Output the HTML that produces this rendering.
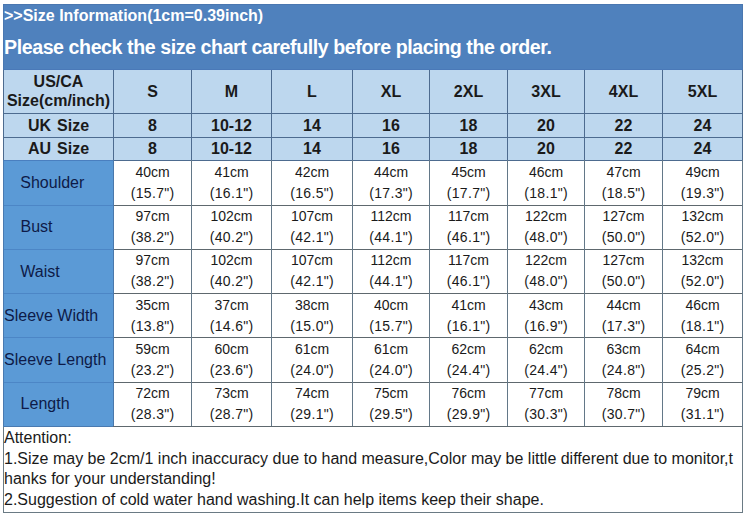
<!DOCTYPE html>
<html><head><meta charset="utf-8"><style>
html,body{margin:0;padding:0;background:#fff;}
body{width:746px;height:517px;overflow:hidden;position:relative;font-family:"Liberation Sans",sans-serif;}
div{position:absolute;}
.t{white-space:pre;}
</style></head><body>
<div style="left:3px;top:4px;width:740px;height:66px;background:#4f81bd;"></div>
<div style="left:4px;top:69px;width:738px;height:1px;background:#4a79b8;"></div>
<div style="left:4px;top:70px;width:738px;height:90px;background:#bdd7ee;"></div>
<div style="left:4px;top:161px;width:109px;height:265px;background:#5b9ad6;"></div>
<div style="left:4px;top:113px;width:738px;height:1px;background:#4d6b8f;"></div>
<div style="left:4px;top:137px;width:738px;height:1px;background:#4d6b8f;"></div>
<div style="left:4px;top:160px;width:109px;height:1px;background:#4a7fbf;"></div>
<div style="left:113px;top:160px;width:629px;height:1px;background:#4d6b8f;"></div>
<div style="left:4px;top:205px;width:109px;height:1px;background:#4c86c6;"></div>
<div style="left:114px;top:205px;width:628px;height:1px;background:#5e686e;"></div>
<div style="left:4px;top:249px;width:109px;height:1px;background:#4c86c6;"></div>
<div style="left:114px;top:249px;width:628px;height:1px;background:#5e686e;"></div>
<div style="left:4px;top:293px;width:109px;height:1px;background:#4c86c6;"></div>
<div style="left:114px;top:293px;width:628px;height:1px;background:#5e686e;"></div>
<div style="left:4px;top:337px;width:109px;height:1px;background:#4c86c6;"></div>
<div style="left:114px;top:337px;width:628px;height:1px;background:#5e686e;"></div>
<div style="left:4px;top:382px;width:109px;height:1px;background:#4c86c6;"></div>
<div style="left:114px;top:382px;width:628px;height:1px;background:#5e686e;"></div>
<div style="left:4px;top:426px;width:109px;height:1px;background:#4a7ab0;"></div>
<div style="left:113px;top:426px;width:629px;height:1px;background:#5e686e;"></div>
<div style="left:113px;top:70px;width:1px;height:90px;background:#4d6b8f;"></div>
<div style="left:113px;top:160px;width:1px;height:266px;background:#4a78ab;"></div>
<div style="left:191px;top:70px;width:1px;height:90px;background:#4d6b8f;"></div>
<div style="left:191px;top:160px;width:1px;height:266px;background:#637888;"></div>
<div style="left:271px;top:70px;width:1px;height:90px;background:#4d6b8f;"></div>
<div style="left:271px;top:160px;width:1px;height:266px;background:#637888;"></div>
<div style="left:352px;top:70px;width:1px;height:90px;background:#4d6b8f;"></div>
<div style="left:352px;top:160px;width:1px;height:266px;background:#637888;"></div>
<div style="left:429px;top:70px;width:1px;height:90px;background:#4d6b8f;"></div>
<div style="left:429px;top:160px;width:1px;height:266px;background:#637888;"></div>
<div style="left:507px;top:70px;width:1px;height:90px;background:#4d6b8f;"></div>
<div style="left:507px;top:160px;width:1px;height:266px;background:#637888;"></div>
<div style="left:584px;top:70px;width:1px;height:90px;background:#4d6b8f;"></div>
<div style="left:584px;top:160px;width:1px;height:266px;background:#637888;"></div>
<div style="left:662px;top:70px;width:1px;height:90px;background:#4d6b8f;"></div>
<div style="left:662px;top:160px;width:1px;height:266px;background:#637888;"></div>
<div style="left:3px;top:4px;width:740px;height:1px;background:#4a77b0;"></div>
<div style="left:3px;top:4px;width:1px;height:66px;background:#4a77b0;"></div>
<div style="left:742px;top:4px;width:1px;height:66px;background:#4a77b0;"></div>
<div style="left:3px;top:70px;width:1px;height:90px;background:#4d6b8f;"></div>
<div style="left:742px;top:70px;width:1px;height:90px;background:#4d6b8f;"></div>
<div style="left:3px;top:160px;width:1px;height:267px;background:#4a7ab0;"></div>
<div style="left:742px;top:160px;width:1px;height:267px;background:#637888;"></div>
<div style="left:3px;top:427px;width:1px;height:86px;background:#6a7a84;"></div>
<div style="left:742px;top:427px;width:1px;height:86px;background:#6a7a84;"></div>
<div style="left:3px;top:512px;width:740px;height:1px;background:#6a7a84;"></div>
<div class="t" style="top:5.56px;font-size:16px;line-height:19px;color:#ffffff;font-weight:bold;left:4.00px;">&gt;&gt;Size Information(1cm=0.39inch)</div>
<div class="t" style="top:35.41px;font-size:19.6px;line-height:24px;color:#ffffff;font-weight:bold;letter-spacing:-0.42px;left:4.00px;">Please check the size chart carefully before placing the order.</div>
<div class="t" style="top:71.96px;font-size:16px;line-height:19px;color:#1a1a1a;font-weight:bold;left:-91.50px;width:300px;text-align:center;">US/CA</div>
<div class="t" style="top:91.46px;font-size:16px;line-height:19px;color:#1a1a1a;font-weight:bold;left:-91.50px;width:300px;text-align:center;">Size(cm/inch)</div>
<div class="t" style="top:81.96px;font-size:16px;line-height:19px;color:#1a1a1a;font-weight:bold;left:2.50px;width:300px;text-align:center;">S</div>
<div class="t" style="top:81.96px;font-size:16px;line-height:19px;color:#1a1a1a;font-weight:bold;left:81.50px;width:300px;text-align:center;">M</div>
<div class="t" style="top:81.96px;font-size:16px;line-height:19px;color:#1a1a1a;font-weight:bold;left:162.00px;width:300px;text-align:center;">L</div>
<div class="t" style="top:81.96px;font-size:16px;line-height:19px;color:#1a1a1a;font-weight:bold;left:241.00px;width:300px;text-align:center;">XL</div>
<div class="t" style="top:81.96px;font-size:16px;line-height:19px;color:#1a1a1a;font-weight:bold;left:318.50px;width:300px;text-align:center;">2XL</div>
<div class="t" style="top:81.96px;font-size:16px;line-height:19px;color:#1a1a1a;font-weight:bold;left:396.00px;width:300px;text-align:center;">3XL</div>
<div class="t" style="top:81.96px;font-size:16px;line-height:19px;color:#1a1a1a;font-weight:bold;left:473.50px;width:300px;text-align:center;">4XL</div>
<div class="t" style="top:81.96px;font-size:16px;line-height:19px;color:#1a1a1a;font-weight:bold;left:552.50px;width:300px;text-align:center;">5XL</div>
<div class="t" style="top:115.96px;font-size:16px;line-height:19px;color:#1a1a1a;font-weight:bold;word-spacing:1.5px;left:-91.50px;width:300px;text-align:center;">UK Size</div>
<div class="t" style="top:138.96px;font-size:16px;line-height:19px;color:#1a1a1a;font-weight:bold;word-spacing:1.5px;left:-91.50px;width:300px;text-align:center;">AU Size</div>
<div class="t" style="top:115.96px;font-size:16px;line-height:19px;color:#1a1a1a;font-weight:bold;left:2.50px;width:300px;text-align:center;">8</div>
<div class="t" style="top:138.96px;font-size:16px;line-height:19px;color:#1a1a1a;font-weight:bold;left:2.50px;width:300px;text-align:center;">8</div>
<div class="t" style="top:115.96px;font-size:16px;line-height:19px;color:#1a1a1a;font-weight:bold;left:81.50px;width:300px;text-align:center;">10-12</div>
<div class="t" style="top:138.96px;font-size:16px;line-height:19px;color:#1a1a1a;font-weight:bold;left:81.50px;width:300px;text-align:center;">10-12</div>
<div class="t" style="top:115.96px;font-size:16px;line-height:19px;color:#1a1a1a;font-weight:bold;left:162.00px;width:300px;text-align:center;">14</div>
<div class="t" style="top:138.96px;font-size:16px;line-height:19px;color:#1a1a1a;font-weight:bold;left:162.00px;width:300px;text-align:center;">14</div>
<div class="t" style="top:115.96px;font-size:16px;line-height:19px;color:#1a1a1a;font-weight:bold;left:241.00px;width:300px;text-align:center;">16</div>
<div class="t" style="top:138.96px;font-size:16px;line-height:19px;color:#1a1a1a;font-weight:bold;left:241.00px;width:300px;text-align:center;">16</div>
<div class="t" style="top:115.96px;font-size:16px;line-height:19px;color:#1a1a1a;font-weight:bold;left:318.50px;width:300px;text-align:center;">18</div>
<div class="t" style="top:138.96px;font-size:16px;line-height:19px;color:#1a1a1a;font-weight:bold;left:318.50px;width:300px;text-align:center;">18</div>
<div class="t" style="top:115.96px;font-size:16px;line-height:19px;color:#1a1a1a;font-weight:bold;left:396.00px;width:300px;text-align:center;">20</div>
<div class="t" style="top:138.96px;font-size:16px;line-height:19px;color:#1a1a1a;font-weight:bold;left:396.00px;width:300px;text-align:center;">20</div>
<div class="t" style="top:115.96px;font-size:16px;line-height:19px;color:#1a1a1a;font-weight:bold;left:473.50px;width:300px;text-align:center;">22</div>
<div class="t" style="top:138.96px;font-size:16px;line-height:19px;color:#1a1a1a;font-weight:bold;left:473.50px;width:300px;text-align:center;">22</div>
<div class="t" style="top:115.96px;font-size:16px;line-height:19px;color:#1a1a1a;font-weight:bold;left:552.50px;width:300px;text-align:center;">24</div>
<div class="t" style="top:138.96px;font-size:16px;line-height:19px;color:#1a1a1a;font-weight:bold;left:552.50px;width:300px;text-align:center;">24</div>
<div class="t" style="top:172.96px;font-size:16px;line-height:19px;color:#0e1a48;left:20.30px;">Shoulder</div>
<div class="t" style="top:163.65px;font-size:14px;line-height:17px;color:#1a1a1a;left:2.50px;width:300px;text-align:center;">40cm</div>
<div class="t" style="top:184.65px;font-size:14px;line-height:17px;color:#1a1a1a;letter-spacing:0.3px;left:2.50px;width:300px;text-align:center;text-indent:0.3px;">(15.7&quot;)</div>
<div class="t" style="top:163.65px;font-size:14px;line-height:17px;color:#1a1a1a;left:81.50px;width:300px;text-align:center;">41cm</div>
<div class="t" style="top:184.65px;font-size:14px;line-height:17px;color:#1a1a1a;letter-spacing:0.3px;left:81.50px;width:300px;text-align:center;text-indent:0.3px;">(16.1&quot;)</div>
<div class="t" style="top:163.65px;font-size:14px;line-height:17px;color:#1a1a1a;left:162.00px;width:300px;text-align:center;">42cm</div>
<div class="t" style="top:184.65px;font-size:14px;line-height:17px;color:#1a1a1a;letter-spacing:0.3px;left:162.00px;width:300px;text-align:center;text-indent:0.3px;">(16.5&quot;)</div>
<div class="t" style="top:163.65px;font-size:14px;line-height:17px;color:#1a1a1a;left:241.00px;width:300px;text-align:center;">44cm</div>
<div class="t" style="top:184.65px;font-size:14px;line-height:17px;color:#1a1a1a;letter-spacing:0.3px;left:241.00px;width:300px;text-align:center;text-indent:0.3px;">(17.3&quot;)</div>
<div class="t" style="top:163.65px;font-size:14px;line-height:17px;color:#1a1a1a;left:318.50px;width:300px;text-align:center;">45cm</div>
<div class="t" style="top:184.65px;font-size:14px;line-height:17px;color:#1a1a1a;letter-spacing:0.3px;left:318.50px;width:300px;text-align:center;text-indent:0.3px;">(17.7&quot;)</div>
<div class="t" style="top:163.65px;font-size:14px;line-height:17px;color:#1a1a1a;left:396.00px;width:300px;text-align:center;">46cm</div>
<div class="t" style="top:184.65px;font-size:14px;line-height:17px;color:#1a1a1a;letter-spacing:0.3px;left:396.00px;width:300px;text-align:center;text-indent:0.3px;">(18.1&quot;)</div>
<div class="t" style="top:163.65px;font-size:14px;line-height:17px;color:#1a1a1a;left:473.50px;width:300px;text-align:center;">47cm</div>
<div class="t" style="top:184.65px;font-size:14px;line-height:17px;color:#1a1a1a;letter-spacing:0.3px;left:473.50px;width:300px;text-align:center;text-indent:0.3px;">(18.5&quot;)</div>
<div class="t" style="top:163.65px;font-size:14px;line-height:17px;color:#1a1a1a;left:552.50px;width:300px;text-align:center;">49cm</div>
<div class="t" style="top:184.65px;font-size:14px;line-height:17px;color:#1a1a1a;letter-spacing:0.3px;left:552.50px;width:300px;text-align:center;text-indent:0.3px;">(19.3&quot;)</div>
<div class="t" style="top:216.96px;font-size:16px;line-height:19px;color:#0e1a48;left:20.50px;">Bust</div>
<div class="t" style="top:207.65px;font-size:14px;line-height:17px;color:#1a1a1a;left:2.50px;width:300px;text-align:center;">97cm</div>
<div class="t" style="top:228.65px;font-size:14px;line-height:17px;color:#1a1a1a;letter-spacing:0.3px;left:2.50px;width:300px;text-align:center;text-indent:0.3px;">(38.2&quot;)</div>
<div class="t" style="top:207.65px;font-size:14px;line-height:17px;color:#1a1a1a;left:81.50px;width:300px;text-align:center;">102cm</div>
<div class="t" style="top:228.65px;font-size:14px;line-height:17px;color:#1a1a1a;letter-spacing:0.3px;left:81.50px;width:300px;text-align:center;text-indent:0.3px;">(40.2&quot;)</div>
<div class="t" style="top:207.65px;font-size:14px;line-height:17px;color:#1a1a1a;left:162.00px;width:300px;text-align:center;">107cm</div>
<div class="t" style="top:228.65px;font-size:14px;line-height:17px;color:#1a1a1a;letter-spacing:0.3px;left:162.00px;width:300px;text-align:center;text-indent:0.3px;">(42.1&quot;)</div>
<div class="t" style="top:207.65px;font-size:14px;line-height:17px;color:#1a1a1a;left:241.00px;width:300px;text-align:center;">112cm</div>
<div class="t" style="top:228.65px;font-size:14px;line-height:17px;color:#1a1a1a;letter-spacing:0.3px;left:241.00px;width:300px;text-align:center;text-indent:0.3px;">(44.1&quot;)</div>
<div class="t" style="top:207.65px;font-size:14px;line-height:17px;color:#1a1a1a;left:318.50px;width:300px;text-align:center;">117cm</div>
<div class="t" style="top:228.65px;font-size:14px;line-height:17px;color:#1a1a1a;letter-spacing:0.3px;left:318.50px;width:300px;text-align:center;text-indent:0.3px;">(46.1&quot;)</div>
<div class="t" style="top:207.65px;font-size:14px;line-height:17px;color:#1a1a1a;left:396.00px;width:300px;text-align:center;">122cm</div>
<div class="t" style="top:228.65px;font-size:14px;line-height:17px;color:#1a1a1a;letter-spacing:0.3px;left:396.00px;width:300px;text-align:center;text-indent:0.3px;">(48.0&quot;)</div>
<div class="t" style="top:207.65px;font-size:14px;line-height:17px;color:#1a1a1a;left:473.50px;width:300px;text-align:center;">127cm</div>
<div class="t" style="top:228.65px;font-size:14px;line-height:17px;color:#1a1a1a;letter-spacing:0.3px;left:473.50px;width:300px;text-align:center;text-indent:0.3px;">(50.0&quot;)</div>
<div class="t" style="top:207.65px;font-size:14px;line-height:17px;color:#1a1a1a;left:552.50px;width:300px;text-align:center;">132cm</div>
<div class="t" style="top:228.65px;font-size:14px;line-height:17px;color:#1a1a1a;letter-spacing:0.3px;left:552.50px;width:300px;text-align:center;text-indent:0.3px;">(52.0&quot;)</div>
<div class="t" style="top:262.16px;font-size:16px;line-height:19px;color:#0e1a48;left:20.30px;">Waist</div>
<div class="t" style="top:251.85px;font-size:14px;line-height:17px;color:#1a1a1a;left:2.50px;width:300px;text-align:center;">97cm</div>
<div class="t" style="top:272.85px;font-size:14px;line-height:17px;color:#1a1a1a;letter-spacing:0.3px;left:2.50px;width:300px;text-align:center;text-indent:0.3px;">(38.2&quot;)</div>
<div class="t" style="top:251.85px;font-size:14px;line-height:17px;color:#1a1a1a;left:81.50px;width:300px;text-align:center;">102cm</div>
<div class="t" style="top:272.85px;font-size:14px;line-height:17px;color:#1a1a1a;letter-spacing:0.3px;left:81.50px;width:300px;text-align:center;text-indent:0.3px;">(40.2&quot;)</div>
<div class="t" style="top:251.85px;font-size:14px;line-height:17px;color:#1a1a1a;left:162.00px;width:300px;text-align:center;">107cm</div>
<div class="t" style="top:272.85px;font-size:14px;line-height:17px;color:#1a1a1a;letter-spacing:0.3px;left:162.00px;width:300px;text-align:center;text-indent:0.3px;">(42.1&quot;)</div>
<div class="t" style="top:251.85px;font-size:14px;line-height:17px;color:#1a1a1a;left:241.00px;width:300px;text-align:center;">112cm</div>
<div class="t" style="top:272.85px;font-size:14px;line-height:17px;color:#1a1a1a;letter-spacing:0.3px;left:241.00px;width:300px;text-align:center;text-indent:0.3px;">(44.1&quot;)</div>
<div class="t" style="top:251.85px;font-size:14px;line-height:17px;color:#1a1a1a;left:318.50px;width:300px;text-align:center;">117cm</div>
<div class="t" style="top:272.85px;font-size:14px;line-height:17px;color:#1a1a1a;letter-spacing:0.3px;left:318.50px;width:300px;text-align:center;text-indent:0.3px;">(46.1&quot;)</div>
<div class="t" style="top:251.85px;font-size:14px;line-height:17px;color:#1a1a1a;left:396.00px;width:300px;text-align:center;">122cm</div>
<div class="t" style="top:272.85px;font-size:14px;line-height:17px;color:#1a1a1a;letter-spacing:0.3px;left:396.00px;width:300px;text-align:center;text-indent:0.3px;">(48.0&quot;)</div>
<div class="t" style="top:251.85px;font-size:14px;line-height:17px;color:#1a1a1a;left:473.50px;width:300px;text-align:center;">127cm</div>
<div class="t" style="top:272.85px;font-size:14px;line-height:17px;color:#1a1a1a;letter-spacing:0.3px;left:473.50px;width:300px;text-align:center;text-indent:0.3px;">(50.0&quot;)</div>
<div class="t" style="top:251.85px;font-size:14px;line-height:17px;color:#1a1a1a;left:552.50px;width:300px;text-align:center;">132cm</div>
<div class="t" style="top:272.85px;font-size:14px;line-height:17px;color:#1a1a1a;letter-spacing:0.3px;left:552.50px;width:300px;text-align:center;text-indent:0.3px;">(52.0&quot;)</div>
<div class="t" style="top:305.96px;font-size:16px;line-height:19px;color:#0e1a48;left:4.00px;">Sleeve Width</div>
<div class="t" style="top:296.65px;font-size:14px;line-height:17px;color:#1a1a1a;left:2.50px;width:300px;text-align:center;">35cm</div>
<div class="t" style="top:317.65px;font-size:14px;line-height:17px;color:#1a1a1a;letter-spacing:0.3px;left:2.50px;width:300px;text-align:center;text-indent:0.3px;">(13.8&quot;)</div>
<div class="t" style="top:296.65px;font-size:14px;line-height:17px;color:#1a1a1a;left:81.50px;width:300px;text-align:center;">37cm</div>
<div class="t" style="top:317.65px;font-size:14px;line-height:17px;color:#1a1a1a;letter-spacing:0.3px;left:81.50px;width:300px;text-align:center;text-indent:0.3px;">(14.6&quot;)</div>
<div class="t" style="top:296.65px;font-size:14px;line-height:17px;color:#1a1a1a;left:162.00px;width:300px;text-align:center;">38cm</div>
<div class="t" style="top:317.65px;font-size:14px;line-height:17px;color:#1a1a1a;letter-spacing:0.3px;left:162.00px;width:300px;text-align:center;text-indent:0.3px;">(15.0&quot;)</div>
<div class="t" style="top:296.65px;font-size:14px;line-height:17px;color:#1a1a1a;left:241.00px;width:300px;text-align:center;">40cm</div>
<div class="t" style="top:317.65px;font-size:14px;line-height:17px;color:#1a1a1a;letter-spacing:0.3px;left:241.00px;width:300px;text-align:center;text-indent:0.3px;">(15.7&quot;)</div>
<div class="t" style="top:296.65px;font-size:14px;line-height:17px;color:#1a1a1a;left:318.50px;width:300px;text-align:center;">41cm</div>
<div class="t" style="top:317.65px;font-size:14px;line-height:17px;color:#1a1a1a;letter-spacing:0.3px;left:318.50px;width:300px;text-align:center;text-indent:0.3px;">(16.1&quot;)</div>
<div class="t" style="top:296.65px;font-size:14px;line-height:17px;color:#1a1a1a;left:396.00px;width:300px;text-align:center;">43cm</div>
<div class="t" style="top:317.65px;font-size:14px;line-height:17px;color:#1a1a1a;letter-spacing:0.3px;left:396.00px;width:300px;text-align:center;text-indent:0.3px;">(16.9&quot;)</div>
<div class="t" style="top:296.65px;font-size:14px;line-height:17px;color:#1a1a1a;left:473.50px;width:300px;text-align:center;">44cm</div>
<div class="t" style="top:317.65px;font-size:14px;line-height:17px;color:#1a1a1a;letter-spacing:0.3px;left:473.50px;width:300px;text-align:center;text-indent:0.3px;">(17.3&quot;)</div>
<div class="t" style="top:296.65px;font-size:14px;line-height:17px;color:#1a1a1a;left:552.50px;width:300px;text-align:center;">46cm</div>
<div class="t" style="top:317.65px;font-size:14px;line-height:17px;color:#1a1a1a;letter-spacing:0.3px;left:552.50px;width:300px;text-align:center;text-indent:0.3px;">(18.1&quot;)</div>
<div class="t" style="top:349.96px;font-size:16px;line-height:19px;color:#0e1a48;left:4.00px;">Sleeve Length</div>
<div class="t" style="top:341.15px;font-size:14px;line-height:17px;color:#1a1a1a;left:2.50px;width:300px;text-align:center;">59cm</div>
<div class="t" style="top:362.15px;font-size:14px;line-height:17px;color:#1a1a1a;letter-spacing:0.3px;left:2.50px;width:300px;text-align:center;text-indent:0.3px;">(23.2&quot;)</div>
<div class="t" style="top:341.15px;font-size:14px;line-height:17px;color:#1a1a1a;left:81.50px;width:300px;text-align:center;">60cm</div>
<div class="t" style="top:362.15px;font-size:14px;line-height:17px;color:#1a1a1a;letter-spacing:0.3px;left:81.50px;width:300px;text-align:center;text-indent:0.3px;">(23.6&quot;)</div>
<div class="t" style="top:341.15px;font-size:14px;line-height:17px;color:#1a1a1a;left:162.00px;width:300px;text-align:center;">61cm</div>
<div class="t" style="top:362.15px;font-size:14px;line-height:17px;color:#1a1a1a;letter-spacing:0.3px;left:162.00px;width:300px;text-align:center;text-indent:0.3px;">(24.0&quot;)</div>
<div class="t" style="top:341.15px;font-size:14px;line-height:17px;color:#1a1a1a;left:241.00px;width:300px;text-align:center;">61cm</div>
<div class="t" style="top:362.15px;font-size:14px;line-height:17px;color:#1a1a1a;letter-spacing:0.3px;left:241.00px;width:300px;text-align:center;text-indent:0.3px;">(24.0&quot;)</div>
<div class="t" style="top:341.15px;font-size:14px;line-height:17px;color:#1a1a1a;left:318.50px;width:300px;text-align:center;">62cm</div>
<div class="t" style="top:362.15px;font-size:14px;line-height:17px;color:#1a1a1a;letter-spacing:0.3px;left:318.50px;width:300px;text-align:center;text-indent:0.3px;">(24.4&quot;)</div>
<div class="t" style="top:341.15px;font-size:14px;line-height:17px;color:#1a1a1a;left:396.00px;width:300px;text-align:center;">62cm</div>
<div class="t" style="top:362.15px;font-size:14px;line-height:17px;color:#1a1a1a;letter-spacing:0.3px;left:396.00px;width:300px;text-align:center;text-indent:0.3px;">(24.4&quot;)</div>
<div class="t" style="top:341.15px;font-size:14px;line-height:17px;color:#1a1a1a;left:473.50px;width:300px;text-align:center;">63cm</div>
<div class="t" style="top:362.15px;font-size:14px;line-height:17px;color:#1a1a1a;letter-spacing:0.3px;left:473.50px;width:300px;text-align:center;text-indent:0.3px;">(24.8&quot;)</div>
<div class="t" style="top:341.15px;font-size:14px;line-height:17px;color:#1a1a1a;left:552.50px;width:300px;text-align:center;">64cm</div>
<div class="t" style="top:362.15px;font-size:14px;line-height:17px;color:#1a1a1a;letter-spacing:0.3px;left:552.50px;width:300px;text-align:center;text-indent:0.3px;">(25.2&quot;)</div>
<div class="t" style="top:394.26px;font-size:16px;line-height:19px;color:#0e1a48;left:20.60px;">Length</div>
<div class="t" style="top:384.65px;font-size:14px;line-height:17px;color:#1a1a1a;left:2.50px;width:300px;text-align:center;">72cm</div>
<div class="t" style="top:405.65px;font-size:14px;line-height:17px;color:#1a1a1a;letter-spacing:0.3px;left:2.50px;width:300px;text-align:center;text-indent:0.3px;">(28.3&quot;)</div>
<div class="t" style="top:384.65px;font-size:14px;line-height:17px;color:#1a1a1a;left:81.50px;width:300px;text-align:center;">73cm</div>
<div class="t" style="top:405.65px;font-size:14px;line-height:17px;color:#1a1a1a;letter-spacing:0.3px;left:81.50px;width:300px;text-align:center;text-indent:0.3px;">(28.7&quot;)</div>
<div class="t" style="top:384.65px;font-size:14px;line-height:17px;color:#1a1a1a;left:162.00px;width:300px;text-align:center;">74cm</div>
<div class="t" style="top:405.65px;font-size:14px;line-height:17px;color:#1a1a1a;letter-spacing:0.3px;left:162.00px;width:300px;text-align:center;text-indent:0.3px;">(29.1&quot;)</div>
<div class="t" style="top:384.65px;font-size:14px;line-height:17px;color:#1a1a1a;left:241.00px;width:300px;text-align:center;">75cm</div>
<div class="t" style="top:405.65px;font-size:14px;line-height:17px;color:#1a1a1a;letter-spacing:0.3px;left:241.00px;width:300px;text-align:center;text-indent:0.3px;">(29.5&quot;)</div>
<div class="t" style="top:384.65px;font-size:14px;line-height:17px;color:#1a1a1a;left:318.50px;width:300px;text-align:center;">76cm</div>
<div class="t" style="top:405.65px;font-size:14px;line-height:17px;color:#1a1a1a;letter-spacing:0.3px;left:318.50px;width:300px;text-align:center;text-indent:0.3px;">(29.9&quot;)</div>
<div class="t" style="top:384.65px;font-size:14px;line-height:17px;color:#1a1a1a;left:396.00px;width:300px;text-align:center;">77cm</div>
<div class="t" style="top:405.65px;font-size:14px;line-height:17px;color:#1a1a1a;letter-spacing:0.3px;left:396.00px;width:300px;text-align:center;text-indent:0.3px;">(30.3&quot;)</div>
<div class="t" style="top:384.65px;font-size:14px;line-height:17px;color:#1a1a1a;left:473.50px;width:300px;text-align:center;">78cm</div>
<div class="t" style="top:405.65px;font-size:14px;line-height:17px;color:#1a1a1a;letter-spacing:0.3px;left:473.50px;width:300px;text-align:center;text-indent:0.3px;">(30.7&quot;)</div>
<div class="t" style="top:384.65px;font-size:14px;line-height:17px;color:#1a1a1a;left:552.50px;width:300px;text-align:center;">79cm</div>
<div class="t" style="top:405.65px;font-size:14px;line-height:17px;color:#1a1a1a;letter-spacing:0.3px;left:552.50px;width:300px;text-align:center;text-indent:0.3px;">(31.1&quot;)</div>
<div class="t" style="top:427.66px;font-size:16px;line-height:19px;color:#1a1a1a;left:4.00px;">Attention:</div>
<div class="t" style="top:448.56px;font-size:16px;line-height:19px;color:#1a1a1a;left:4.00px;">1.Size may be 2cm/1 inch inaccuracy due to hand measure,Color may be little different due to monitor,t</div>
<div class="t" style="top:469.36px;font-size:16px;line-height:19px;color:#1a1a1a;left:4.00px;">hanks for your understanding!</div>
<div class="t" style="top:490.36px;font-size:16px;line-height:19px;color:#1a1a1a;left:4.00px;">2.Suggestion of cold water hand washing.It can help items keep their shape.</div>
</body></html>
